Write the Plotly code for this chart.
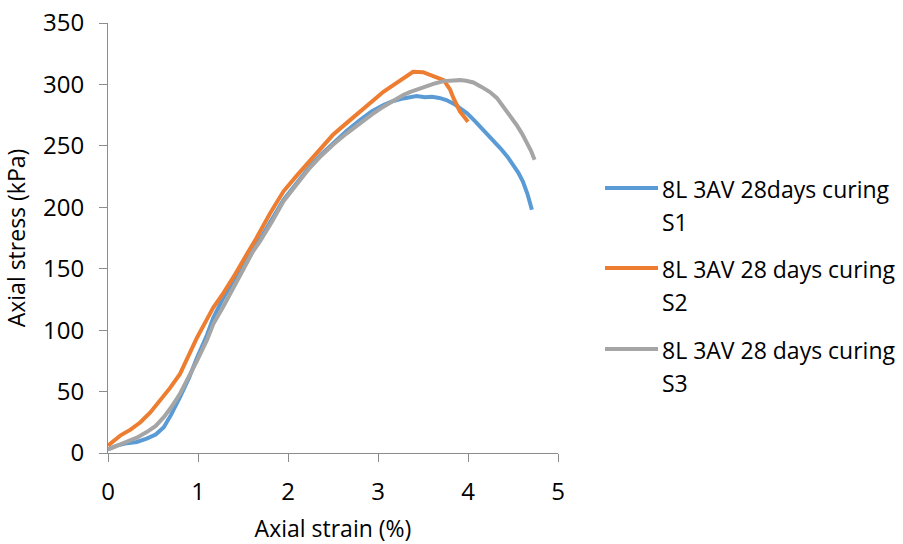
import plotly.graph_objects as go

# ---- data ----
s1_strain = [0, 0.1, 0.21, 0.32, 0.43, 0.53, 0.62, 0.7, 0.8, 0.9, 0.99, 1.1, 1.17, 1.28, 1.39, 1.5,
             1.61, 1.69, 1.82, 1.95, 2.1, 2.24, 2.37, 2.5, 2.65, 2.8, 2.93, 3.06, 3.17, 3.28, 3.36,
             3.43, 3.52, 3.6, 3.68, 3.76, 3.85, 3.92, 3.99, 4.08, 4.17, 4.27, 4.36, 4.44, 4.5, 4.56,
             4.61, 4.66, 4.71]
s1_stress = [3, 6, 8, 9, 11.7, 15, 21, 31, 45.4, 61, 77.8, 96, 110, 126, 140, 152,
             166, 174, 190, 206, 220, 233, 243, 252, 262, 271, 278, 283.3, 286.5, 288.6, 290,
             290.5, 289.5, 290, 289, 287.3, 284, 280, 276.5, 270, 263, 256, 248, 241, 234.6, 228,
             221, 211, 198]

s2_strain = [0, 0.07, 0.14, 0.25, 0.36, 0.47, 0.58, 0.69, 0.8, 0.9, 0.99, 1.1, 1.17, 1.28, 1.39,
             1.56, 1.65, 1.8, 1.95, 2.1, 2.24, 2.37, 2.5, 2.65, 2.8, 2.93, 3.06, 3.17, 3.28, 3.39,
             3.5, 3.58, 3.66, 3.73, 3.8, 3.84, 3.91, 3.96, 4.0]
s2_stress = [6, 10, 14.4, 19, 25, 33, 42.7, 53, 64.4, 80, 94, 109, 118.4, 130, 142.7,
             164, 175, 195, 213, 226, 237.3, 248.5, 259, 268.5, 277.8, 286, 294, 299.5, 304.9, 310.3,
             310, 308, 306, 303.5, 296, 288.6, 278, 274, 269.7]

s3_strain = [0, 0.1, 0.21, 0.32, 0.43, 0.53, 0.62, 0.7, 0.8, 0.9, 0.99, 1.1, 1.17, 1.28, 1.39, 1.5,
             1.61, 1.69, 1.82, 1.95, 2.1, 2.24, 2.37, 2.5, 2.65, 2.8, 2.93, 3.06, 3.17, 3.28, 3.36,
             3.45, 3.54, 3.64, 3.73, 3.82, 3.91, 3.98, 4.06, 4.15, 4.24, 4.32, 4.39, 4.47, 4.54,
             4.6, 4.65, 4.7, 4.74]
s3_stress = [3, 6, 8.9, 12.5, 17, 22, 29.2, 37, 48.2, 62, 75.2, 92, 105, 119, 134.6, 149,
             164, 172.4, 188, 204.9, 219, 231.9, 242, 250.9, 260, 268.4, 275.5, 281.9, 287, 291.4, 294,
             296.5, 298.9, 301, 302.7, 303.5, 303.5, 303, 301.6, 298, 294, 289, 281.9, 275, 267,
             260, 253.5, 246, 238.7]

series_names = ["8L 3AV 28days curing", "8L 3AV 28 days curing", "8L 3AV 28 days curing"]
series_tags = ["S1", "S2", "S3"]
colors = ["#5B9BD5", "#ED7D31", "#A5A5A5"]

x_ticks = [0, 1, 2, 3, 4, 5]
y_ticks = [0, 50, 100, 150, 200, 250, 300, 350]

FONT = "Open Sans"
TXT = 23
TICK = 24

fig = go.Figure()
for xs, ys, name, tag, c in zip([s1_strain, s2_strain, s3_strain],
                                [s1_stress, s2_stress, s3_stress],
                                series_names, series_tags, colors):
    fig.add_trace(go.Scatter(x=xs, y=ys, mode="lines", name=f"{name} {tag}",
                             line=dict(color=c, width=4), showlegend=False))

# manual legend (Excel style: long line, wrapped text)
L, R, T, B = 108, 345, 23, 91
W, H = 903 - L - R, 544 - T - B
def px(x): return (x - L) / W
def py(y): return (544 - B - y) / H

legend_rows = [188, 268, 349]
for name, tag, c, yrow in zip(series_names, series_tags, colors, legend_rows):
    fig.add_shape(type="line", xref="paper", yref="paper",
                  x0=px(605), x1=px(658), y0=py(yrow), y1=py(yrow),
                  line=dict(color=c, width=4))
    fig.add_annotation(xref="paper", yref="paper", x=px(660), y=py(yrow + 1),
                       text=name, showarrow=False, xanchor="left", yanchor="middle",
                       font=dict(family=FONT, size=TXT, color="black"))
    fig.add_annotation(xref="paper", yref="paper", x=px(660), y=py(yrow + 34),
                       text=tag, showarrow=False, xanchor="left", yanchor="middle",
                       font=dict(family=FONT, size=TXT, color="black"))

axis_common = dict(showgrid=False, zeroline=False, showline=True, linecolor="#8C8C8C",
                   linewidth=1, ticks="outside", ticklen=8, tickcolor="#8C8C8C",
                   automargin=False,
                   tickfont=dict(family=FONT, size=TICK, color="black"))

fig.update_layout(
    width=903, height=544,
    margin=dict(l=L, r=R, t=T, b=B),
    plot_bgcolor="white", paper_bgcolor="white",
    xaxis=dict(range=[0, 5], tickvals=x_ticks, ticklabelstandoff=9, **axis_common,
               title=dict(text="Axial strain (%)", standoff=16,
                          font=dict(family=FONT, size=TXT, color="black"))),
    yaxis=dict(range=[0, 350], tickvals=y_ticks, ticklabelstandoff=10, **axis_common,
               title=dict(text="Axial stress (kPa)", standoff=10,
                          font=dict(family=FONT, size=TXT, color="black"))),
)

fig.write_html("out.html")
